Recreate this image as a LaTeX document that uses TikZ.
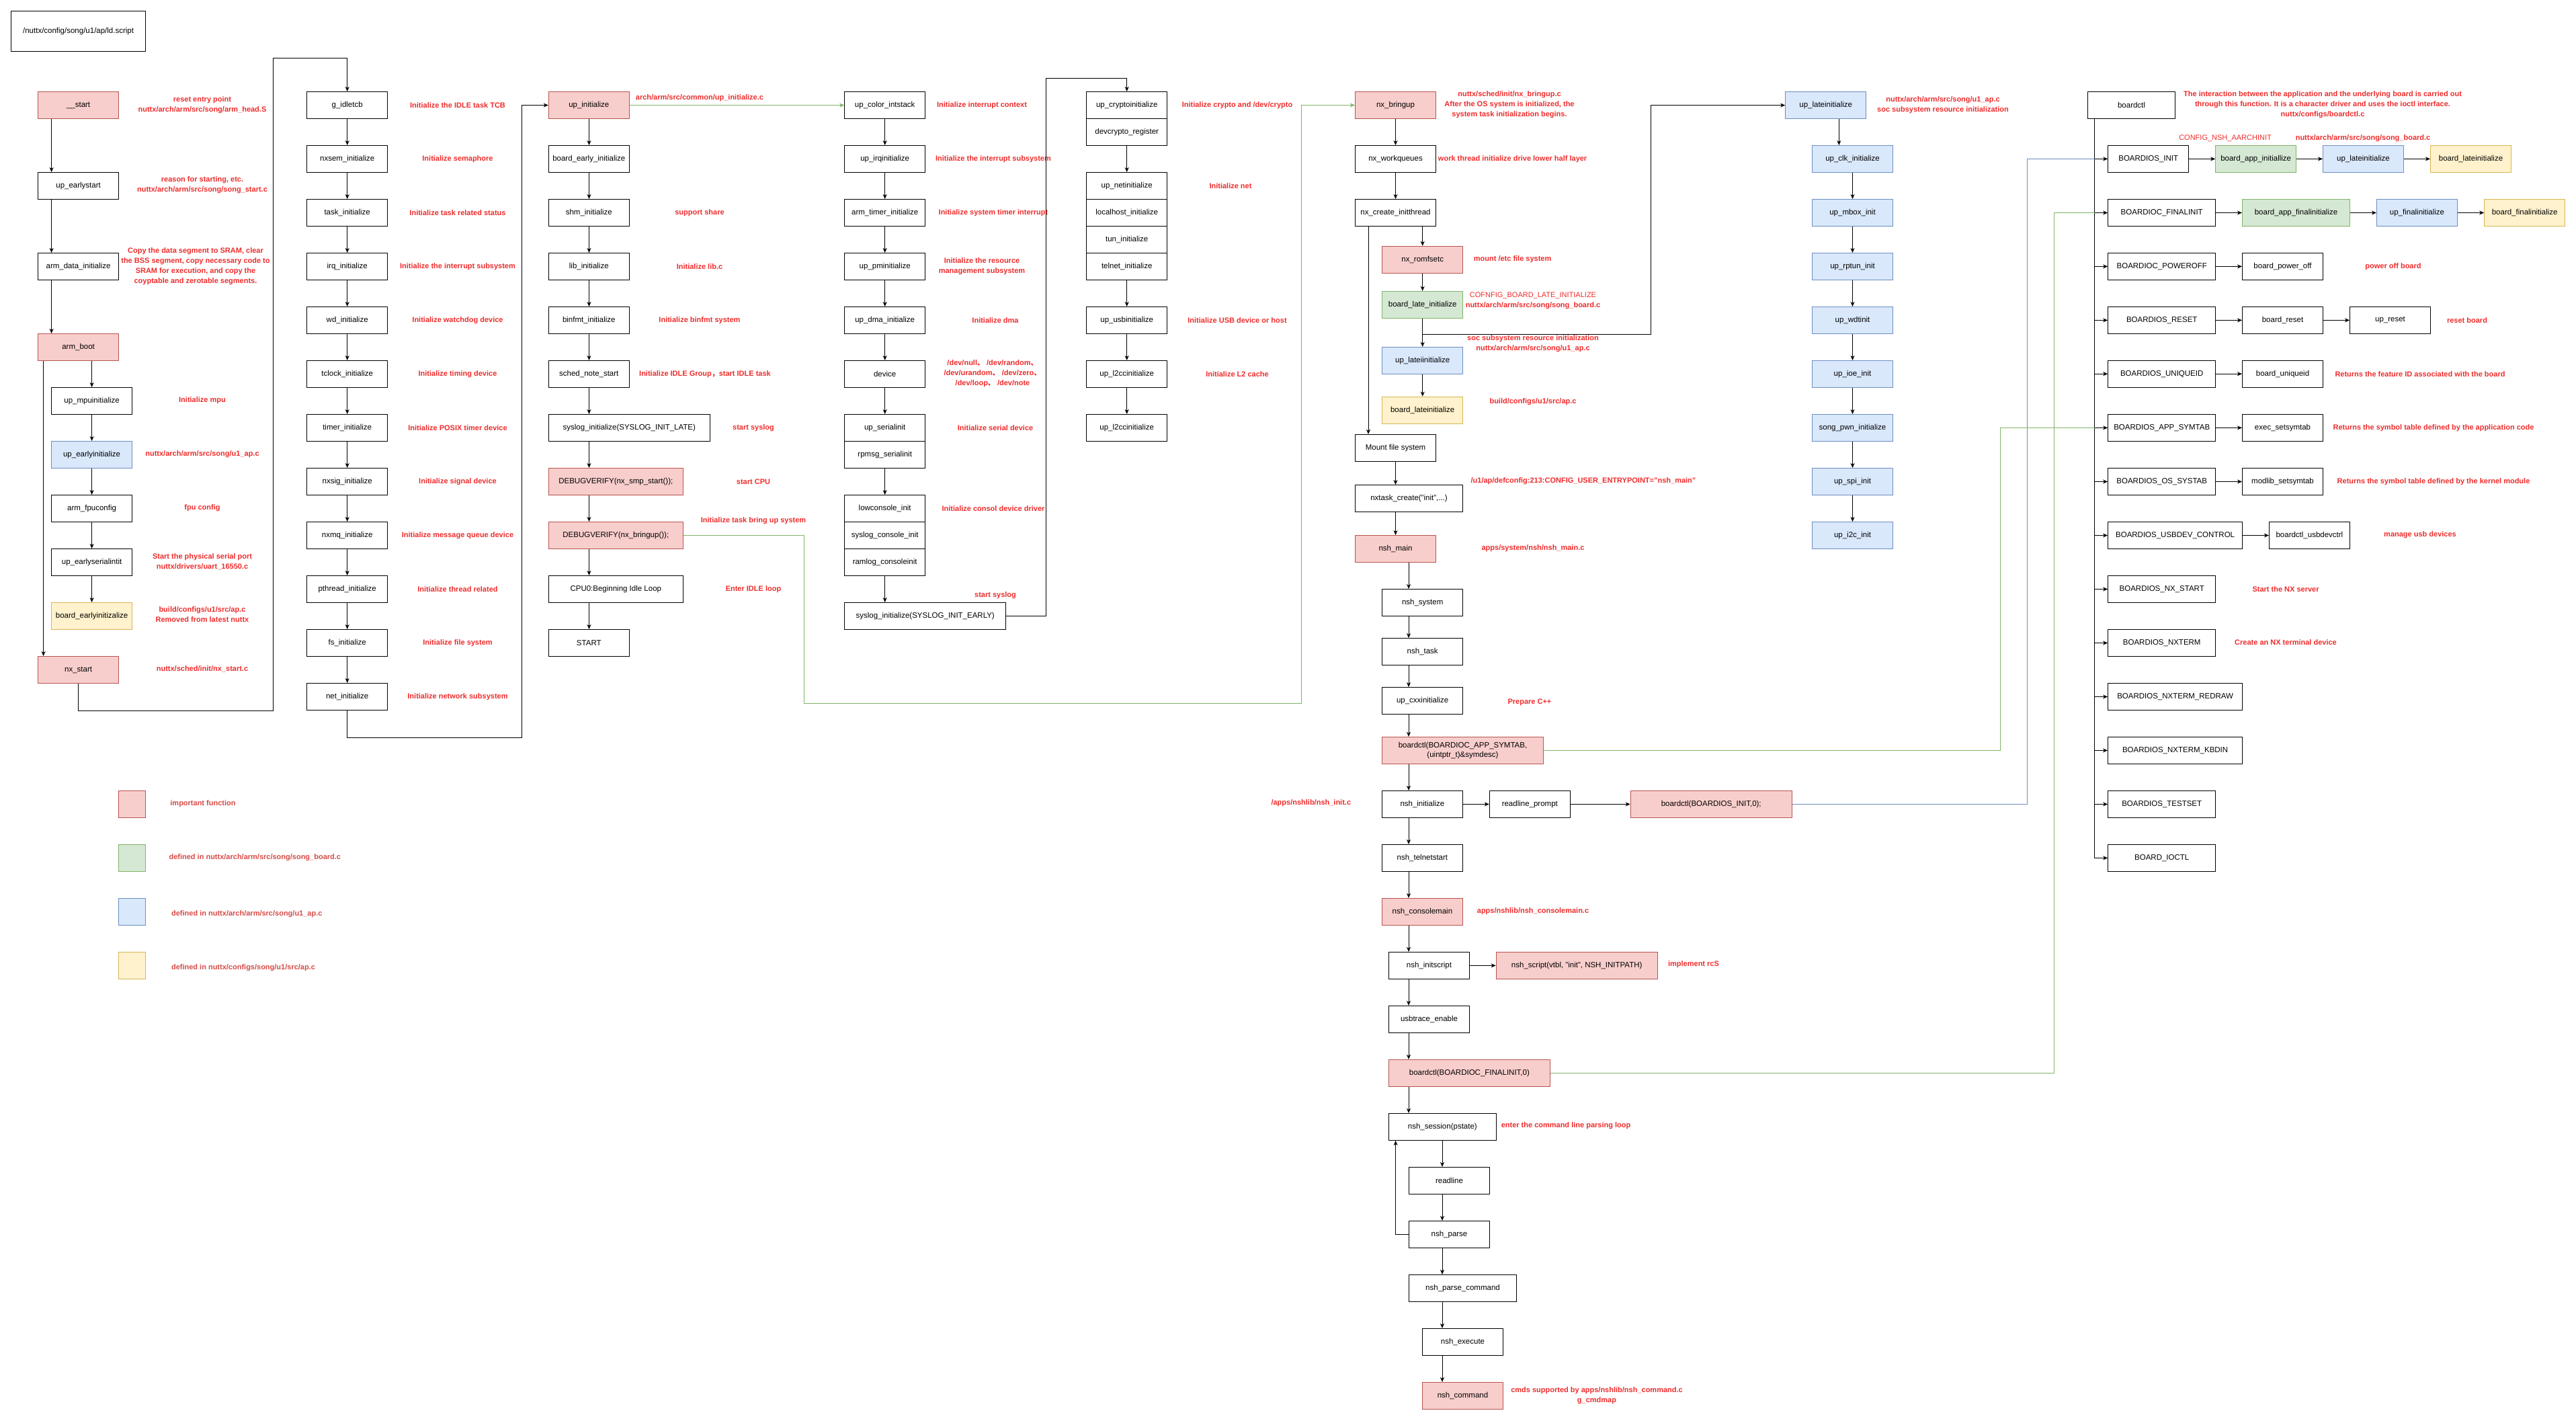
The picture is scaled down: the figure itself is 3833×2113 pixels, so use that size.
\documentclass[tikz,border=0pt]{standalone}
\usepackage{fontspec}
\setmainfont{Liberation Sans}
\newfontfamily\cjk{Noto Sans CJK SC}
\usetikzlibrary{arrows.meta}
\definecolor{impfill}{HTML}{F8CECC}
\definecolor{impline}{HTML}{B85450}
\definecolor{brdfill}{HTML}{D5E8D4}
\definecolor{brdline}{HTML}{82B366}
\definecolor{socfill}{HTML}{DAE8FC}
\definecolor{socline}{HTML}{6C8EBF}
\definecolor{cfgfill}{HTML}{FFF2CC}
\definecolor{cfgline}{HTML}{D6B656}
\definecolor{notered}{HTML}{EE2B2B}
\definecolor{keyred}{HTML}{D64A46}
\tikzset{
  fn/.style={draw, line width=1pt, minimum width=120pt, minimum height=40pt,
    inner sep=2pt, align=center, font=\fontsize{11.5}{14}\selectfont},
  imp/.style={fn, draw=impline, fill=impfill},
  brd/.style={fn, draw=brdline, fill=brdfill},
  soc/.style={fn, draw=socline, fill=socfill},
  cfg/.style={fn, draw=cfgline, fill=cfgfill},
  note/.style={text=notered, inner sep=0pt, align=center,
    font=\bfseries\fontsize{11}{15}\selectfont},
  flow/.style={line width=1pt, -{Stealth[length=7pt,width=6pt,inset=2pt]}},
  gflow/.style={flow, draw=brdline},
  gline/.style={line width=1pt, draw=brdline},
  bline/.style={line width=1pt, draw=socline}
}
\begin{document}
\begin{tikzpicture}[x=1pt,y=-1pt]
\useasboundingbox (0,0) rectangle (3833,2113);
\coordinate (c3) at (876.5,0);
\coordinate (c6b) at (2096,0);
\coordinate (c6c) at (2146,0);
\coordinate (c6d) at (2076.6,0);
\coordinate (c7) at (2736.3,0);
\coordinate (tr) at (3116.5,0);

\node[fn, minimum width=200pt, minimum height=60pt] (ldscript) at (116.6,46.7) {/nuttx/config/song/u1/ap/ld.script};
\node[imp] (start) at (116.6,156.5) {\_\_start};
\node[fn] (earlystart) at (116.6,276.5) {up\_earlystart};
\node[fn] (datainit) at (116.6,396.5) {arm\_data\_initialize};
\node[imp] (armboot) at (116.6,516.5) {arm\_boot};
\node[imp] (nxstart) at (116.6,996.5) {nx\_start};
\foreach \nm/\txt/\sty [count=\i from 0, remember=\nm as \prev (initially armboot)] in {mpuinit/up\_mpuinitialize/fn, earlyinit/up\_earlyinitialize/soc, fpucfg/arm\_fpuconfig/fn, serialinit/up\_earlyserialintit/fn, boardearly/board\_earlyinitizalize/cfg}{
  \node[\sty] (\nm) at (136.6,{596.5+80*\i}) {\txt};
  \ifnum\i>0 \draw[flow] (\prev) -- (\nm); \fi
}
\draw[flow] ([xshift=-40pt]start.south) -- ([xshift=-40pt]earlystart.north);
\draw[flow] ([xshift=-40pt]earlystart.south) -- ([xshift=-40pt]datainit.north);
\draw[flow] ([xshift=-40pt]datainit.south) -- ([xshift=-40pt]armboot.north);
\draw[flow] (armboot.south -| mpuinit) -- (mpuinit.north);
\draw[flow] ([xshift=-52pt]armboot.south) -- ([xshift=-52pt]nxstart.north);

\node[note] (startnote) at (301,156) {reset entry point\\nuttx/arch/arm/src/song/arm\_head.S};
\node[note] (earlynote) at (301,275.5) {reason for starting, etc.\\nuttx/arch/arm/src/song/song\_start.c};
\node[note] (datanote) at (291,396) {Copy the data segment to SRAM, clear\\the BSS segment, copy necessary code to\\SRAM for execution, and copy the\\coyptable and zerotable segments.};
\node[note] (mpunote) at (301,596) {Initialize mpu};
\node[note] (earlyinitnote) at (301,675.5) {nuttx/arch/arm/src/song/u1\_ap.c};
\node[note] (fpunote) at (301,755.5) {fpu config};
\node[note] (serialnote) at (301,836) {Start the physical serial port\\nuttx/drivers/uart\_16550.c};
\node[note] (boardearlynote) at (301,914) {build/configs/u1/src/ap.c\\Removed from latest nuttx};
\node[note] (nxstartnote) at (301,995.5) {nuttx/sched/init/nx\_start.c};

\foreach \nm/\txt/\lbl [count=\i from 0, remember=\nm as \prev] in {
  idletcb/g\_idletcb/Initialize the IDLE task TCB,
  nxsem/nxsem\_initialize/Initialize semaphore,
  task/task\_initialize/Initialize task related status,
  irq/irq\_initialize/Initialize the interrupt subsystem,
  wd/wd\_initialize/Initialize watchdog device,
  tclock/tclock\_initialize/Initialize timing device,
  timer/timer\_initialize/Initialize POSIX timer device,
  nxsig/nxsig\_initialize/Initialize signal device,
  nxmq/nxmq\_initialize/Initialize message queue device,
  pthread/pthread\_initialize/Initialize thread related,
  fs/fs\_initialize/Initialize file system,
  net/net\_initialize/Initialize network subsystem}{
  \node[fn] (\nm) at (516.7,{156.5+80*\i}) {\txt};
  \node[note] (\nm-note) at (681,{156.5+80*\i}) {\lbl};
  \ifnum\i>0 \draw[flow] (\prev) -- (\nm); \fi
}
\draw[flow] (nxstart.south) -- ++(0,40) -| (406,86.5) -| (idletcb.north);

\foreach \nm/\txt/\sty/\w [count=\i from 0, remember=\nm as \prev] in {
  upinit/up\_initialize/imp/120,
  bearly/board\_early\_initialize/fn/120,
  shm/shm\_initialize/fn/120,
  lib/lib\_initialize/fn/120,
  binfmt/binfmt\_initialize/fn/120,
  schednote/sched\_note\_start/fn/120,
  syslate/syslog\_initialize(SYSLOG\_INIT\_LATE)/fn/240,
  smp/DEBUGVERIFY(nx\_smp\_start());/imp/200,
  bringup/DEBUGVERIFY(nx\_bringup());/imp/200,
  idle/CPU0:Beginning Idle Loop/fn/200,
  sysstart/START/fn/120}{
  \node[\sty, minimum width=\w pt] (\nm) at ({816.3+\w/2},{156.5+80*\i}) {\txt};
  \ifnum\i>0 \draw[flow] (\prev.south -| c3) -- (\nm.north -| c3); \fi
}
\draw[flow] (net.south) -- ++(0,40) -| (776,156.5) -- (upinit.west);

\node[note, anchor=west] (upinitnote) at (945.7,145.3) {arch/arm/src/common/up\_initialize.c};
\node[note] (shmnote) at (1041,316.5) {support share};
\node[note] (libnote) at (1041,396.5) {Initialize lib.c};
\node[note] (binfmtnote) at (1041,476.5) {Initialize binfmt system};
\node[note] (schednotenote) at (1049,556.5) {Initialize IDLE Group{\cjk ，}start IDLE task};
\node[note] (syslatenote) at (1121,636.5) {start syslog};
\node[note] (smpnote) at (1121,716.5) {start CPU};
\node[note] (bringupnote) at (1121,775) {Initialize task bring up system};
\node[note] (idlenote) at (1121,876.5) {Enter IDLE loop};

\foreach \nm/\txt [count=\i from 0, remember=\nm as \prev] in {upcolor/up\_color\_intstack, upirq/up\_irqinitialize, armtimer/arm\_timer\_initialize, uppm/up\_pminitialize, updma/up\_dma\_initialize, device/device}{
  \node[fn] (\nm) at (1316.7,{156.5+80*\i}) {\txt};
  \ifnum\i>0 \draw[flow] (\prev) -- (\nm); \fi
}
\node[fn] (serial) at (1316.7,636.5) {up\_serialinit};
\node[fn] (rpmsg) at (1316.7,676.5) {rpmsg\_serialinit};
\node[fn] (lowcon) at (1316.7,756.5) {lowconsole\_init};
\node[fn] (syscon) at (1316.7,796.5) {syslog\_console\_init};
\node[fn] (ramlog) at (1316.7,836.5) {ramlog\_consoleinit};
\node[fn, minimum width=240pt] (sysearly) at (1376.7,916.5) {syslog\_initialize(SYSLOG\_INIT\_EARLY)};
\draw[flow] (device) -- (serial);
\draw[flow] (rpmsg) -- (lowcon);
\draw[flow] (ramlog.south) -- (ramlog.south |- sysearly.north);
\draw[gflow] (upinit) -- (upcolor);

\node[note] (upcolornote) at (1461,156.5) {Initialize interrupt context};
\node[note] (upirqnote) at (1478,236.5) {Initialize the interrupt subsystem};
\node[note] (armtimernote) at (1478,316.5) {Initialize system timer interrupt};
\node[note] (uppmnote) at (1461,396) {Initialize the resource\\management subsystem};
\node[note] (updmanote) at (1481,476.5) {Initialize dma};
\node[note] (devicenote) at (1477,555.5) {/dev/null{\cjk 、} /dev/random{\cjk 、}\\/dev/urandom{\cjk 、} /dev/zero{\cjk 、}\\/dev/loop{\cjk 、} /dev/note};
\node[note] (serialnote2) at (1481,636.5) {Initialize serial device};
\node[note] (lowconnote) at (1478,756.5) {Initialize consol device driver};
\node[note] (sysearlynote) at (1481,885.7) {start syslog};

\node[fn] (crypto) at (1676.7,156.5) {up\_cryptoinitialize};
\node[fn] (devcrypto) at (1676.7,196.5) {devcrypto\_register};
\node[fn] (upnet) at (1676.7,276.5) {up\_netinitialize};
\node[fn] (localhost) at (1676.7,316.5) {localhost\_initialize};
\node[fn] (tun) at (1676.7,356.5) {tun\_initialize};
\node[fn] (telnet) at (1676.7,396.5) {telnet\_initialize};
\node[fn] (usb) at (1676.7,476.5) {up\_usbinitialize};
\node[fn] (l2ca) at (1676.7,556.5) {up\_l2ccinitialize};
\node[fn] (l2cb) at (1676.7,636.5) {up\_l2ccinitialize};
\draw[flow] (devcrypto) -- (upnet);
\draw[flow] (telnet) -- (usb);
\draw[flow] (usb) -- (l2ca);
\draw[flow] (l2ca) -- (l2cb);
\draw[flow] (sysearly.east) -| (1556.7,116.5) -| (crypto.north);

\node[note] (cryptonote) at (1841,156.5) {Initialize crypto and /dev/crypto};
\node[note] (upnetnote) at (1831,276.5) {Initialize net};
\node[note] (usbnote) at (1841,476.5) {Initialize USB device or host};
\node[note] (l2cnote) at (1841,556.5) {Initialize L2 cache};

\node[imp] (nxbringup) at (2076.5,156.5) {nx\_bringup};
\node[fn] (workq) at (2076.5,236.5) {nx\_workqueues};
\node[fn] (createinit) at (2076.5,316.5) {nx\_create\_initthread};
\node[imp] (romfs) at (2116.7,386.3) {nx\_romfsetc};
\node[brd] (boardlate) at (2116.7,453.3) {board\_late\_initialize};
\node[soc] (uplateii) at (2116.7,536.5) {up\_lateiinitialize};
\node[cfg] (boardlateinit) at (2116.7,610.2) {board\_lateinitialize};
\node[fn] (mountfs) at (2076.5,666.3) {Mount file system};
\node[fn, minimum width=160pt] (nxtask) at (2096.5,741.6) {nxtask\_create("init",...)};
\node[imp] (nshmain) at (2076.5,816.5) {nsh\_main};
\node[fn] (nshsystem) at (2116.7,896.5) {nsh\_system};
\node[fn] (nshtask) at (2116.7,969.6) {nsh\_task};
\node[fn] (upcxx) at (2116.7,1042.6) {up\_cxxinitialize};
\node[imp, minimum width=240pt] (symtab) at (2176.5,1116.4) {boardctl(BOARDIOC\_APP\_SYMTAB,\\(uintptr\_t)\&symdesc)};
\node[fn] (nshinit) at (2116.4,1196.4) {nsh\_initialize};
\node[fn] (rlprompt) at (2276.3,1196.4) {readline\_prompt};
\node[imp, minimum width=240pt] (bdinit) at (2546.2,1196.4) {boardctl(BOARDIOS\_INIT,0);};
\node[fn] (telnetstart) at (2116.4,1276.4) {nsh\_telnetstart};
\node[imp] (consolemain) at (2116.4,1356.4) {nsh\_consolemain};
\node[fn] (initscript) at (2126.5,1436.4) {nsh\_initscript};
\node[imp, minimum width=240pt] (nshscript) at (2346.2,1436.4) {nsh\_script(vtbl, "init", NSH\_INITPATH)};
\node[fn] (usbtrace) at (2126.5,1516.4) {usbtrace\_enable};
\node[imp, minimum width=240pt] (finalinit) at (2186.4,1596.4) {boardctl(BOARDIOC\_FINALINIT,0)};
\node[fn, minimum width=160pt] (session) at (2146.3,1676.4) {nsh\_session(pstate)};
\node[fn] (readline) at (2156.5,1756.4) {readline};
\node[fn] (parse) at (2156.5,1836.4) {nsh\_parse};
\node[fn, minimum width=160pt] (parsecmd) at (2176.5,1916.4) {nsh\_parse\_command};
\node[fn] (execute) at (2176.5,1996.4) {nsh\_execute};
\node[imp] (command) at (2176.5,2076.4) {nsh\_command};

\draw[flow] (nxbringup) -- (workq);
\draw[flow] (workq) -- (createinit);
\draw[flow] (createinit.south -| romfs) -- (romfs.north);
\draw[flow] (romfs) -- (boardlate);
\draw[flow] (boardlate) -- (uplateii);
\draw[flow] (uplateii) -- (boardlateinit);
\draw[flow] ([xshift=-40.5pt]createinit.south) -- ([xshift=-40.5pt]mountfs.north);
\draw[flow] (mountfs.south) -- (mountfs.south |- nxtask.north);
\draw[flow] (nxtask.south -| nshmain) -- (nshmain.north);
\foreach \a/\b in {nshmain/nshsystem, nshsystem/nshtask, nshtask/upcxx, upcxx/symtab, symtab/nshinit, nshinit/telnetstart, telnetstart/consolemain, consolemain/initscript, initscript/usbtrace, usbtrace/finalinit, finalinit/session}
  \draw[flow] (\a.south -| c6b) -- (\b.north -| c6b);
\foreach \a/\b in {session/readline, readline/parse, parse/parsecmd, parsecmd/execute, execute/command}
  \draw[flow] (\a.south -| c6c) -- (\b.north -| c6c);
\draw[flow] (parse.west) -| (session.south -| c6d);
\draw[flow] (nshinit) -- (rlprompt);
\draw[flow] (rlprompt) -- (bdinit);
\draw[flow] (initscript) -- (nshscript);
\draw[gflow] (bringup.east) -| (1196.7,1046) -| (1936.7,156.5) -- (nxbringup.west);

\node[note] (nxbringupnote) at (2246,156) {nuttx/sched/init/nx\_bringup.c\\After the OS system is initialized, the\\system task initialization begins.};
\node[note] (workqnote) at (2250.6,236.5) {work thread initialize drive lower half layer};
\node[note] (romfsnote) at (2250.6,385.7) {mount /etc file system};
\node[note] (boardlatenote) at (2281,447.5) {{\mdseries COFNFIG\_BOARD\_LATE\_INITIALIZE}\\nuttx/arch/arm/src/song/song\_board.c};
\node[note] (uplateiinote) at (2281,511) {soc subsystem resource initialization\\nuttx/arch/arm/src/song/u1\_ap.c};
\node[note] (boardlateinitnote) at (2281,597.5) {build/configs/u1/src/ap.c};
\node[note] (nxtasknote) at (2356,715.4) {/u1/ap/defconfig:213:CONFIG\_USER\_ENTRYPOINT="nsh\_main"};
\node[note] (nshmainnote) at (2281,815.5) {apps/system/nsh/nsh\_main.c};
\node[note] (upcxxnote) at (2276,1045) {Prepare C++};
\node[note] (nshinitnote) at (1950.8,1195) {/apps/nshlib/nsh\_init.c};
\node[note] (consolemainnote) at (2281,1355.7) {apps/nshlib/nsh\_consolemain.c};
\node[note] (nshscriptnote) at (2520,1435) {implement rcS};
\node[note] (sessionnote) at (2330,1675) {enter the command line parsing loop};
\node[note] (commandnote) at (2376,2076.5) {cmds supported by apps/nshlib/nsh\_command.c\\g\_cmdmap};

\node[soc] (uplate) at (2716.7,156.6) {up\_lateinitialize};
\foreach \nm/\txt [count=\i from 0, remember=\nm as \prev] in {clk/up\_clk\_initialize, mbox/up\_mbox\_init, rptun/up\_rptun\_init, wdt/up\_wdtinit, ioe/up\_ioe\_init, pwn/song\_pwn\_initialize, spi/up\_spi\_init, i2c/up\_i2c\_init}{
  \node[soc] (\nm) at (2756.5,{236.5+80*\i}) {\txt};
  \ifnum\i>0 \draw[flow] (\prev) -- (\nm); \fi
}
\draw[flow] (uplate.south -| c7) -- (clk.north -| c7);
\coordinate (lj) at (2116.7,497.3);
\draw[flow] (lj) -| (2456.6,156.6) -- (uplate.west);
\node[note] (uplatenote) at (2891,156) {nuttx/arch/arm/src/song/u1\_ap.c\\soc subsystem resource initialization};

\node[fn, minimum width=130pt] (boardctl) at (3171.5,156.5) {boardctl};
\node[fn] (bsinit) at (3196.7,236.4) {BOARDIOS\_INIT};
\node[brd] (appinit) at (3356.7,236.4) {board\_app\_initiallize};
\node[soc] (uplate2) at (3516.5,236.4) {up\_lateinitialize};
\node[cfg] (blinit2) at (3676.5,236.4) {board\_lateinitialize};
\node[fn, minimum width=160pt] (bcfinal) at (3216.7,316.5) {BOARDIOC\_FINALINIT};
\node[brd, minimum width=160pt] (appfinal) at (3416.5,316.5) {board\_app\_finalinitialize};
\node[soc] (upfinal) at (3596.5,316.5) {up\_finalinitialize};
\node[cfg] (bfinal) at (3756.7,316.5) {board\_finalinitialize};
\node[fn, minimum width=160pt] (poweroff) at (3216.7,396.4) {BOARDIOC\_POWEROFF};
\node[fn] (bpoweroff) at (3396.5,396.4) {board\_power\_off};
\node[fn, minimum width=160pt] (reset) at (3216.7,476.4) {BOARDIOS\_RESET};
\node[fn] (breset) at (3396.5,476.4) {board\_reset};
\node[fn] (upreset) at (3556.5,476.4) {up\_reset};
\node[fn, minimum width=160pt] (uniq) at (3216.7,556.2) {BOARDIOS\_UNIQUEID};
\node[fn] (buniq) at (3396.5,556.2) {board\_uniqueid};
\node[fn, minimum width=160pt] (appsym) at (3216.7,636.4) {BOARDIOS\_APP\_SYMTAB};
\node[fn] (execsym) at (3396.5,636.4) {exec\_setsymtab};
\node[fn, minimum width=160pt] (ossym) at (3216.7,716.5) {BOARDIOS\_OS\_SYSTAB};
\node[fn] (modsym) at (3396.5,716.5) {modlib\_setsymtab};
\node[fn, minimum width=200pt] (usbdev) at (3236.6,796.5) {BOARDIOS\_USBDEV\_CONTROL};
\node[fn] (usbctrl) at (3436.4,796.5) {boardctl\_usbdevctrl};
\node[fn, minimum width=160pt] (nxstartb) at (3216.7,876.5) {BOARDIOS\_NX\_START};
\node[fn, minimum width=160pt] (nxterm) at (3216.7,956.5) {BOARDIOS\_NXTERM};
\node[fn, minimum width=200pt] (redraw) at (3236.6,1036.5) {BOARDIOS\_NXTERM\_REDRAW};
\node[fn, minimum width=200pt] (kbdin) at (3236.6,1116.4) {BOARDIOS\_NXTERM\_KBDIN};
\node[fn, minimum width=160pt] (testset) at (3216.7,1196.4) {BOARDIOS\_TESTSET};
\node[fn, minimum width=160pt] (ioctl) at (3216.7,1276.4) {BOARD\_IOCTL};
\draw[flow] (boardctl.south -| tr) |- (ioctl.west);
\foreach \b in {bsinit, bcfinal, poweroff, reset, uniq, appsym, ossym, usbdev, nxstartb, nxterm, redraw, kbdin, testset}
  \draw[flow] (\b.west -| tr) -- (\b.west);
\foreach \a/\b in {bsinit/appinit, appinit/uplate2, uplate2/blinit2, bcfinal/appfinal, appfinal/upfinal, upfinal/bfinal, poweroff/bpoweroff, reset/breset, breset/upreset, uniq/buniq, appsym/execsym, ossym/modsym, usbdev/usbctrl}
  \draw[flow] (\a) -- (\b);
\draw[bline] (bdinit.east) -| (3016.3,236.4) -- (bsinit.west -| tr);
\draw[gline] (symtab.east) -| (2976.3,636.4) -- (appsym.west -| tr);
\draw[gline] (finalinit.east) -| (3056.3,316.5) -- (bcfinal.west -| tr);

\node[note] (boardctlnote) at (3456,156) {The interaction between the application and the underlying board is carried out\\through this function. It is a character driver and uses the ioctl interface.\\nuttx/configs/boardctl.c};
\node[note, font=\fontsize{11}{15}\selectfont] (aarchnote) at (3311,205.4) {CONFIG\_NSH\_AARCHINIT};
\node[note] (songboardnote) at (3516,205.4) {nuttx/arch/arm/src/song/song\_board.c};
\node[note] (poweroffnote) at (3561,396.4) {power off board};
\node[note] (resetnote) at (3671,476.4) {reset board};
\node[note] (uniqnote) at (3601,556.2) {Returns the feature ID associated with the board};
\node[note] (appsymnote) at (3621,636.4) {Returns the symbol table defined by the application code};
\node[note] (ossymnote) at (3621,716.5) {Returns the symbol table defined by the kernel module};
\node[note] (usbdevnote) at (3601,795.5) {manage usb devices};
\node[note] (nxstartbnote) at (3401,876.5) {Start the NX server};
\node[note] (nxtermnote) at (3401,955.5) {Create an NX terminal device};

\node[imp, minimum width=40pt] (keyimp) at (196.5,1196.3) {};
\node[brd, minimum width=40pt] (keybrd) at (196.5,1276.5) {};
\node[soc, minimum width=40pt] (keysoc) at (196.5,1356.3) {};
\node[cfg, minimum width=40pt] (keycfg) at (196.5,1436.3) {};
\node[note, text=keyred] (keyimptxt) at (302,1195.7) {important function};
\node[note, text=keyred] (keybrdtxt) at (379.3,1275.7) {defined in nuttx/arch/arm/src/song/song\_board.c};
\node[note, text=keyred] (keysoctxt) at (367.3,1360) {defined in nuttx/arch/arm/src/song/u1\_ap.c};
\node[note, text=keyred] (keycfgtxt) at (362,1440) {defined in nuttx/configs/song/u1/src/ap.c};
\end{tikzpicture}
\end{document}
